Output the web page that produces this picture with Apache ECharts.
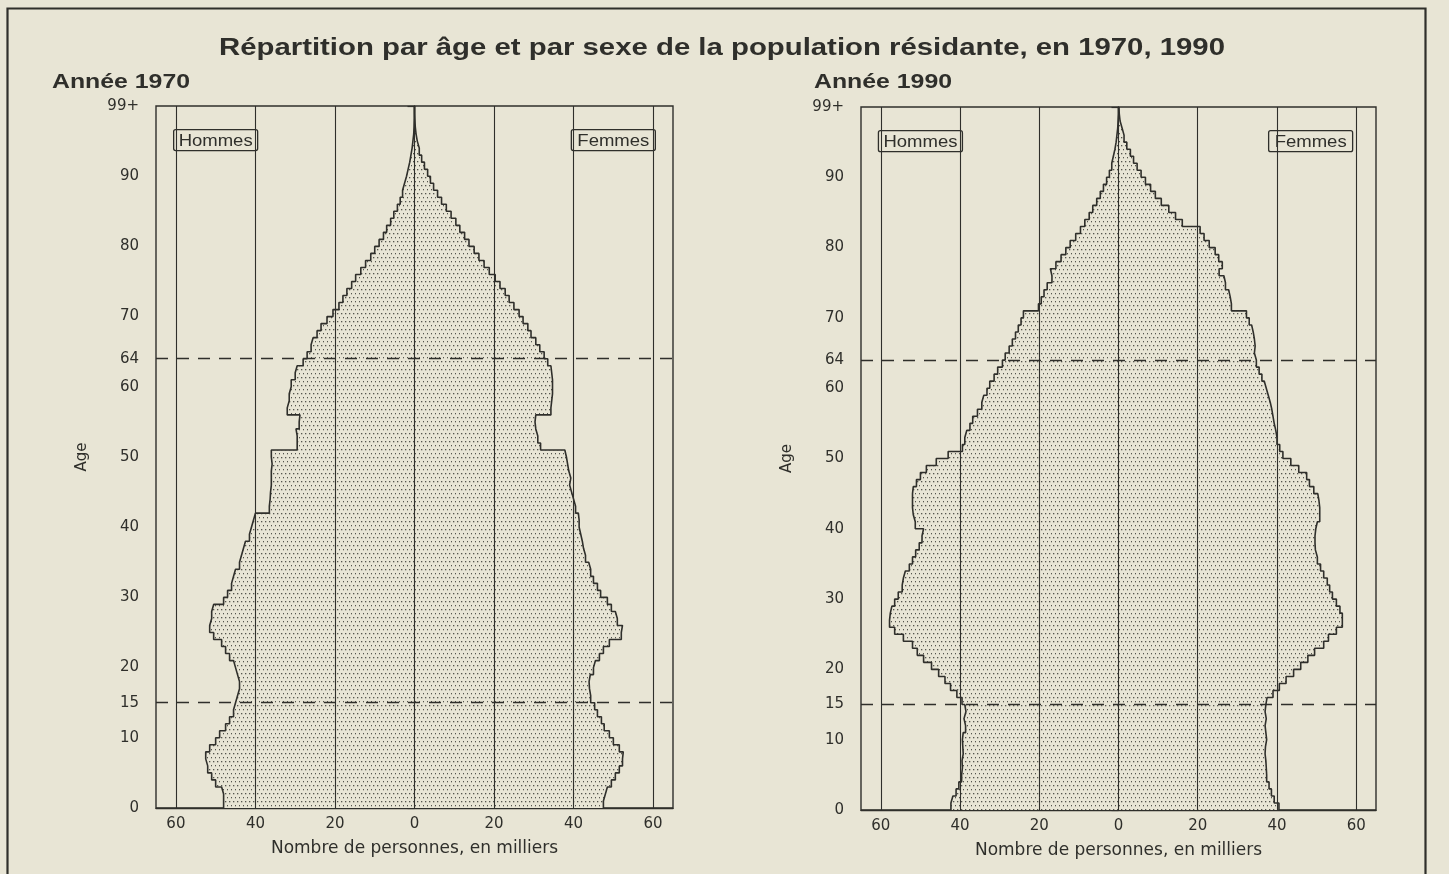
<!DOCTYPE html>
<html>
<head>
<meta charset="utf-8">
<title>Répartition par âge et par sexe de la population résidante</title>
<script src="https://cdn.jsdelivr.net/npm/echarts@6.0.0/dist/echarts.min.js"></script>
<style>
  html, body { margin: 0; padding: 0; background: #e8e5d5; }
  #chart { width: 1449px; height: 874px; }
</style>
</head>
<body>
<div id="chart"></div>
<script>
// effectifs en milliers, par âge 0 .. 99
var hommes1970 = [
  48, 48, 48.5, 50, 51, 52, 52.5, 52.5, 51.5, 50,
  49, 47.5, 46.5, 45.5, 45, 44.5, 44, 44, 44.5, 45,
  45.5, 46.5, 47.5, 48.5, 50.5, 51.5, 51, 51, 50.5, 48,
  47, 46, 45.5, 45, 44, 43.5, 43, 42.5, 41.5, 41,
  40.5, 40, 36.5, 36.3, 36.2, 36, 36, 36, 35.8, 36,
  36, 29.5, 29.5, 29.8, 29, 28.8, 32, 31.5, 31.5, 31,
  31, 30, 29.5, 28, 27, 26, 25.5, 24.5, 23.5, 22,
  20.5, 19, 18, 17, 15.8, 14.8, 13.5, 12.3, 11, 10,
  8.9, 7.8, 7, 6, 5.2, 4.3, 3.6, 3, 2.5, 2,
  1.6, 1.2, 0.9, 0.6, 0.4, 0.2, 0.1, 0.05, 0, 0
];
var femmes1970 = [
  47.5, 48, 48.5, 49.5, 50.5, 51.5, 52.3, 52.5, 51.5, 50,
  49, 47.7, 47, 46, 45.3, 44.3, 44, 43.9, 44.2, 45,
  45.5, 46.5, 47.5, 49, 52, 52.3, 51, 50.5, 49.5, 48.5,
  46.8, 46, 45, 44.3, 43.8, 43, 42.5, 42.2, 41.8, 41.4,
  41.4, 41.2, 40.5, 40, 39.5, 39, 39.3, 38.8, 38.5, 38.2,
  37.8, 31.7, 31, 30.5, 30.3, 30.5, 34.3, 34.5, 34.7, 34.7,
  34.7, 34.5, 34.3, 33.5, 32.6, 31.5, 30.5, 29.3, 28.5, 27.3,
  26.3, 25, 23.8, 22.8, 21.5, 20.3, 18.8, 17.5, 16.2, 15,
  13.7, 12.6, 11.4, 10.4, 9.2, 8, 6.8, 5.8, 4.8, 4,
  3.3, 2.5, 1.8, 1.2, 0.7, 0.4, 0.2, 0.1, 0, 0
];
var hommes1990 = [
  42.3, 41.8, 41, 40.3, 39.6, 39.4, 39.5, 39.2, 39.3, 39.4,
  39.2, 38.6, 39, 38.5, 38.8, 39.5, 40.8, 42.4, 43.8, 45.4,
  47.2, 49.2, 50.8, 52, 54.3, 56.5, 57.8, 57.6, 57.2, 56.5,
  55.6, 54.6, 54.3, 53.8, 52.8, 52, 51.2, 50.3, 49.6, 49.2,
  51.3, 51.8, 52, 52, 52, 51.8, 51, 50, 48.5, 46,
  43, 39.4, 38.8, 38.3, 37.5, 36.8, 35.6, 34.5, 34, 33.2,
  32.5, 31.4, 30.5, 29.3, 28.6, 27.6, 26.8, 26, 25.3, 24.6,
  24, 20.2, 19.5, 18.8, 18, 16.8, 17.2, 15.8, 14.5, 13.3,
  12.2, 10.8, 9.6, 8.5, 7.4, 6.5, 5.5, 4.6, 3.8, 3,
  2.3, 1.7, 1.3, 0.9, 0.6, 0.4, 0.2, 0.1, 0, 0
];
var femmes1990 = [
  40.5, 39.3, 38.6, 38, 37.4, 37.3, 37.2, 37, 37.1, 37.4,
  37.2, 37, 37.3, 37, 37.2, 37.5, 39, 40.6, 42.3, 44.2,
  46, 47.8, 49.5, 51.8, 53, 55, 56.5, 56.5, 55.9, 55,
  54, 53.3, 52.7, 51.8, 51, 50.2, 49.7, 49.6, 49.6, 49.8,
  50.2, 50.8, 50.8, 50.6, 50.3, 49.3, 48.2, 47.5, 45.5, 43.5,
  41.5, 40.7, 40, 39.7, 39.3, 39, 38.7, 38.3, 37.8, 37.3,
  36.8, 36.2, 35.5, 34.8, 34.3, 34.5, 34.3, 34, 33.6, 33,
  32.3, 28.5, 28.2, 27.8, 27, 26.6, 25.4, 26.2, 25.3, 24.4,
  22.9, 21.6, 20.6, 16.1, 14.4, 12.7, 10.8, 9.3, 8.1, 6.8,
  5.7, 4.7, 3.8, 3, 2.1, 1.4, 0.9, 0.4, 0.2, 0.1
];

var ageLabels = [0, 10, 15, 20, 30, 40, 50, 60, 64, 70, 80, 90, 100]; // 100 -> "99+"
var gridValues = [-60, -40, -20, 0, 20, 40, 60];
var dashedAges = [15, 64];

var ink = '#2f2f2b';
var paper = '#e8e5d5';
var font = '"Liberation Sans", Arial, sans-serif';
var axisFont = '"DejaVu Sans", sans-serif';

// categories 0..100 (la dernière ferme le contour en haut)
var ages = [];
for (var a = 0; a <= 100; a++) ages.push(String(a));

function side(values, sign) {
  var d = values.map(function (v) { return sign * v; });
  d.push(0);
  return d;
}

// trame pointillée (quinconce)
function dots() {
  var c = document.createElement('canvas');
  c.width = 4; c.height = 8;
  var g = c.getContext('2d');
  g.fillStyle = paper;
  g.fillRect(0, 0, 4, 8);
  g.fillStyle = '#55554e';
  g.fillRect(1, 1, 1.3, 1.3);
  g.fillRect(3, 5, 1.3, 1.3);
  return c;
}
var pattern = { image: dots(), repeat: 'repeat' };

// étirement horizontal des textes (le document source est élargi)
var measureCtx = document.createElement('canvas').getContext('2d');
function stretch(text, cssFont, targetWidth) {
  measureCtx.font = cssFont;
  return targetWidth / measureCtx.measureText(text).width;
}

function showAge(index, value) {
  return ageLabels.indexOf(+value) >= 0;
}

function xAxis(i) {
  return {
    type: 'value', gridIndex: i, min: -65, max: 65, interval: 5,
    name: 'Nombre de personnes, en milliers',
    nameLocation: 'middle', nameGap: 32,
    nameTextStyle: { fontFamily: axisFont, fontSize: 17, color: ink },
    axisLine: { show: true, lineStyle: { color: ink, width: 1.4 } },
    axisTick: { show: false },
    splitLine: { show: false },
    axisLabel: {
      fontFamily: axisFont, fontSize: 15, color: ink, margin: 9,
      formatter: function (v) { return gridValues.indexOf(v) >= 0 ? String(Math.abs(v)) : ''; }
    }
  };
}

function yAxis(i) {
  return {
    type: 'category', gridIndex: i, data: ages, boundaryGap: false,
    name: 'Age', nameLocation: 'middle', nameRotate: 90, nameGap: 66,
    nameTextStyle: { fontFamily: axisFont, fontSize: 15, color: ink },
    axisLine: { show: true, lineStyle: { color: ink, width: 1.4 } },
    axisTick: { show: true, interval: showAge, length: 7, lineStyle: { color: ink, width: 1.2 } },
    splitLine: { show: false },
    axisLabel: {
      interval: showAge, fontFamily: axisFont, fontSize: 15, color: ink, margin: 17,
      formatter: function (v) { return v === '100' ? '99+' : v; }
    }
  };
}

function pyramid(i, values, sign, withLines) {
  var s = {
    type: 'line', xAxisIndex: i, yAxisIndex: i,
    data: side(values, sign), step: 'end', symbol: 'none', silent: true,
    lineStyle: { color: ink, width: 1.6 },
    areaStyle: { color: pattern, opacity: 1 }
  };
  if (withLines) {
    s.markLine = {
      silent: true, symbol: 'none', label: { show: false },
      lineStyle: { color: ink, width: 1.1, type: 'solid' },
      data: gridValues.map(function (v) { return { xAxis: v }; }).concat(
        dashedAges.map(function (a) {
          return { yAxis: String(a), lineStyle: { type: [12, 9], width: 1.4, color: ink } };
        }))
    };
  }
  return s;
}

var chart = echarts.init(document.getElementById('chart'), null, { renderer: 'canvas' });

chart.setOption({
  backgroundColor: paper,
  animation: false,
  grid: [
    { left: 156, top: 106, width: 517, height: 702, show: true, borderColor: ink, borderWidth: 1.4 },
    { left: 861, top: 107, width: 515, height: 703, show: true, borderColor: ink, borderWidth: 1.4 }
  ],
  xAxis: [xAxis(0), xAxis(1)],
  yAxis: [yAxis(0), yAxis(1)],
  series: [
    pyramid(0, hommes1970, -1, false),
    pyramid(0, femmes1970, 1, true),
    pyramid(1, hommes1990, -1, false),
    pyramid(1, femmes1990, 1, true)
  ]
});

var titleText = 'Répartition par âge et par sexe de la population résidante, en 1970, 1990';
var titleFont = 'bold 23px ' + font;
var yearFont = 'bold 21px ' + font;
var tagFont = '16px ' + font;

// étiquettes "Hommes" / "Femmes" placées sur les axes
function tag(gridIndex, value, text) {
  var p = chart.convertToPixel({ xAxisIndex: gridIndex, yAxisIndex: gridIndex }, [value, 95]);
  return {
    type: 'group', x: p[0], y: p[1] - 1,
    children: [
      { type: 'rect', shape: { x: -42, y: -10.5, width: 84, height: 21, r: 2 },
        style: { fill: paper, stroke: ink, lineWidth: 1.3 } },
      { type: 'text', x: 0, y: 1, scaleX: stretch(text, tagFont, text === 'Hommes' ? 74 : 72),
        style: { text: text, font: tagFont, fill: ink, align: 'center', verticalAlign: 'middle' } }
    ]
  };
}

function heading(x, y, text, cssFont, width, align) {
  return {
    type: 'text', x: x, y: y, scaleX: stretch(text, cssFont, width),
    style: { text: text, font: cssFont, fill: ink, align: align, verticalAlign: 'middle' }
  };
}

chart.setOption({
  graphic: [
    { type: 'rect', shape: { x: 7.5, y: 8.5, width: 1418, height: 900 },
      style: { fill: null, stroke: ink, lineWidth: 2.2 }, silent: true },
    heading(722, 49, titleText, titleFont, 1006, 'center'),
    heading(52, 82, 'Année 1970', yearFont, 138, 'left'),
    heading(814, 82, 'Année 1990', yearFont, 138, 'left'),
    tag(0, -50, 'Hommes'),
    tag(0, 50, 'Femmes'),
    tag(1, -50, 'Hommes'),
    tag(1, 48.5, 'Femmes')
  ]
});
</script>
</body>
</html>
